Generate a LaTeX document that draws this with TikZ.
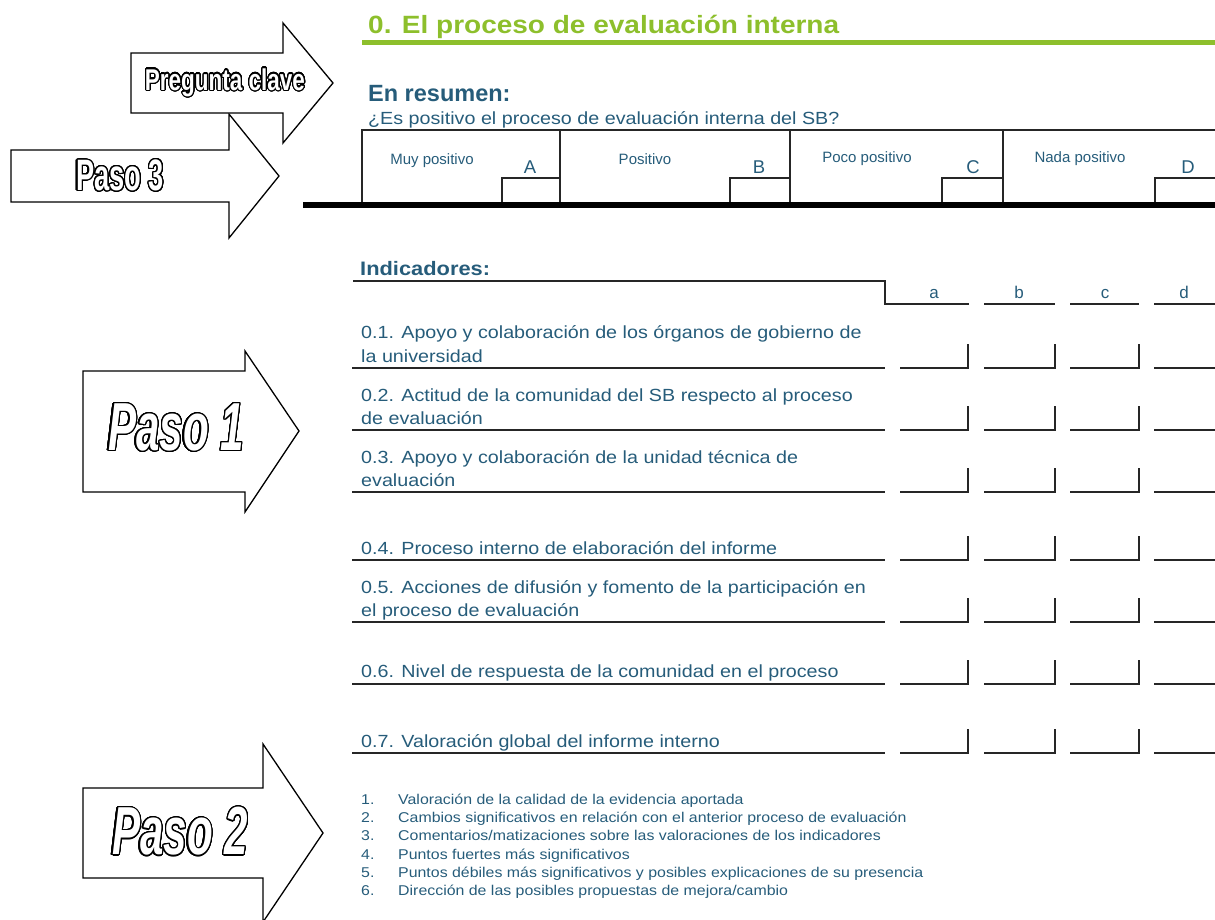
\documentclass[tikz,border=0pt]{standalone}
\usepackage{fontspec}
\setmainfont{Liberation Sans}
\newfontfamily\docfont{Liberation Sans}[FakeStretch=1.12]
\newfontfamily\stepfont{Liberation Sans}[FakeStretch=0.62]
\newfontfamily\keyfont{Liberation Sans}[FakeStretch=0.75]
\usepackage[copies]{contour}
\contourlength{1.2pt}
\contournumber{32}
\usetikzlibrary{positioning}

\definecolor{docblue}{RGB}{38,92,122}
\definecolor{docgreen}{RGB}{141,191,44}

\tikzset{
	steparrow/.style={draw=black, fill=white, line width=1.3pt, line join=miter},
	steplabel/.style={text=white, inner sep=0pt},
	doctext/.style={text=docblue, anchor=base west, inner sep=0pt, font=\docfont\fontsize{17.6}{20}\selectfont},
	notetext/.style={text=docblue, anchor=base west, inner sep=0pt, font=\docfont\fontsize{14.2}{16}\selectfont},
	choicetext/.style={text=docblue, inner sep=0pt, font=\fontsize{15}{16}\selectfont},
	lettertext/.style={text=docblue, inner sep=0pt, anchor=base, font=\fontsize{18.5}{20}\selectfont},
	formline/.style={line width=1.3pt, black!85}
}

\begin{document}
\begin{tikzpicture}[x=1pt, y=-1pt]
	\useasboundingbox (0,0) rectangle (1215,919);
	\clip (0,0) rectangle (1215,919);
	
	% cabecera
	\node[text=docgreen, anchor=base west, inner sep=0pt, font=\docfont\bfseries\fontsize{25}{28}\selectfont] (title) at (368,33) {0. El proceso de evaluación interna};
	\draw[docgreen, line width=5pt] (362,42) -- (1215,42);
	\node[text=docblue, anchor=base west, inner sep=0pt, font=\bfseries\fontsize{23.5}{26}\selectfont] (summary) at (368,101) {En resumen:};
	\node[doctext] (question) at (368,124) {¿Es positivo el proceso de evaluación interna del SB?};
	
	% casillas A-D
	\draw[formline] (362,205) -- (362,130) -- (1215,130);
	\draw[formline] (560,130) -- (560,205) (790,130) -- (790,205) (1003,130) -- (1003,205);
	\draw[formline] (502,205) |- (560,178) (730,205) |- (790,178) (942,205) |- (1003,178) (1155,205) |- (1215,178);
	\draw[line width=6pt] (303,205) -- (1215,205);
	\node[choicetext] (muy) at (432,161) {Muy positivo};
	\node[choicetext] (pos) at (645,159) {Positivo};
	\node[choicetext] (poco) at (867,159) {Poco positivo};
	\node[choicetext] (nada) at (1080,159) {Nada positivo};
	\node[lettertext] (optA) at (530,173) {A};
	\node[lettertext] (optB) at (759,173) {B};
	\node[lettertext] (optC) at (973,173) {C};
	\node[lettertext] (optD) at (1188,173) {D};
	
	% indicadores
	\node[text=docblue, anchor=base west, inner sep=0pt, font=\docfont\bfseries\fontsize{19.5}{22}\selectfont] (ind) at (360,275) {Indicadores:};
	\draw[formline] (353,281) -- (885,281) -- (885,304) -- (969,304);
	\draw[formline] (984,304) -- (1055,304) (1070,304) -- (1139,304) (1154,304) -- (1215,304);
	\foreach \col/\cx in {a/934, b/1019, c/1105, d/1184}
		\node[text=docblue, anchor=base, inner sep=0pt, font=\fontsize{17}{18}\selectfont] (head\col) at (\cx,298) {\col};
	
	\node[doctext] (row1) at (361,338) {0.1. Apoyo y colaboración de los órganos de gobierno de};
	\node[doctext] (row1b) at (361,362) {la universidad};
	\node[doctext] (row2) at (361,401) {0.2. Actitud de la comunidad del SB respecto al proceso};
	\node[doctext] (row2b) at (361,424) {de evaluación};
	\node[doctext] (row3) at (361,463) {0.3. Apoyo y colaboración de la unidad técnica de};
	\node[doctext] (row3b) at (361,486) {evaluación};
	\node[doctext] (row4) at (361,554) {0.4. Proceso interno de elaboración del informe};
	\node[doctext] (row5) at (361,593) {0.5. Acciones de difusión y fomento de la participación en};
	\node[doctext] (row5b) at (361,616) {el proceso de evaluación};
	\node[doctext] (row6) at (361,677) {0.6. Nivel de respuesta de la comunidad en el proceso};
	\node[doctext] (row7) at (361,747) {0.7. Valoración global del informe interno};
	
	\foreach \ry in {368,430,492,560,622,684,753} {
		\draw[formline] (352,\ry) -- (885,\ry);
		\foreach \xa/\xb in {900/968, 984/1055, 1070/1139}
			\draw[formline] (\xa,\ry) -- (\xb,\ry) -- (\xb,\ry-24);
		\draw[formline] (1154,\ry) -- (1215,\ry);
	}
	
	% notas
	\foreach \txt [count=\i] in {Valoración de la calidad de la evidencia aportada,
		Cambios significativos en relación con el anterior proceso de evaluación,
		Comentarios/matizaciones sobre las valoraciones de los indicadores,
		Puntos fuertes más significativos,
		Puntos débiles más significativos y posibles explicaciones de su presencia,
		Dirección de las posibles propuestas de mejora/cambio} {
		\node[notetext] (num\i) at (361,786+18.3*\i) {\i.};
		\node[notetext] (note\i) at (398,786+18.3*\i) {\txt};
	}
	
	% flechas
	\draw[steparrow] (11,150) -- (229,150) -- (229,114) -- (279,176) -- (229,238) -- (229,202) -- (11,202) -- cycle;
	\node[steplabel, font=\stepfont\bfseries\fontsize{44}{44}\selectfont] (paso3) at (120,176) {\contour{black}{Paso 3}};
	\draw[steparrow] (131,53) -- (283,53) -- (283,23) -- (333,83) -- (283,143) -- (283,113) -- (131,113) -- cycle;
	\node[steplabel, font=\keyfont\bfseries\fontsize{30}{30}\selectfont] (clave) at (225,83) {\contour{black}{Pregunta clave}};
	\draw[steparrow] (83,371) -- (245,371) -- (245,351) -- (299,431) -- (245,512) -- (245,492) -- (83,492) -- cycle;
	\node[steplabel, font=\stepfont\bfseries\itshape\fontsize{68}{68}\selectfont] (paso1) at (176,428) {\contour{black}{Paso 1}};
	\draw[steparrow] (83,788) -- (263,788) -- (263,744) -- (323,833) -- (263,922) -- (263,878) -- (83,878) -- cycle;
	\node[steplabel, font=\stepfont\bfseries\itshape\fontsize{68}{68}\selectfont] (paso2) at (180,832) {\contour{black}{Paso 2}};
\end{tikzpicture}
\end{document}
